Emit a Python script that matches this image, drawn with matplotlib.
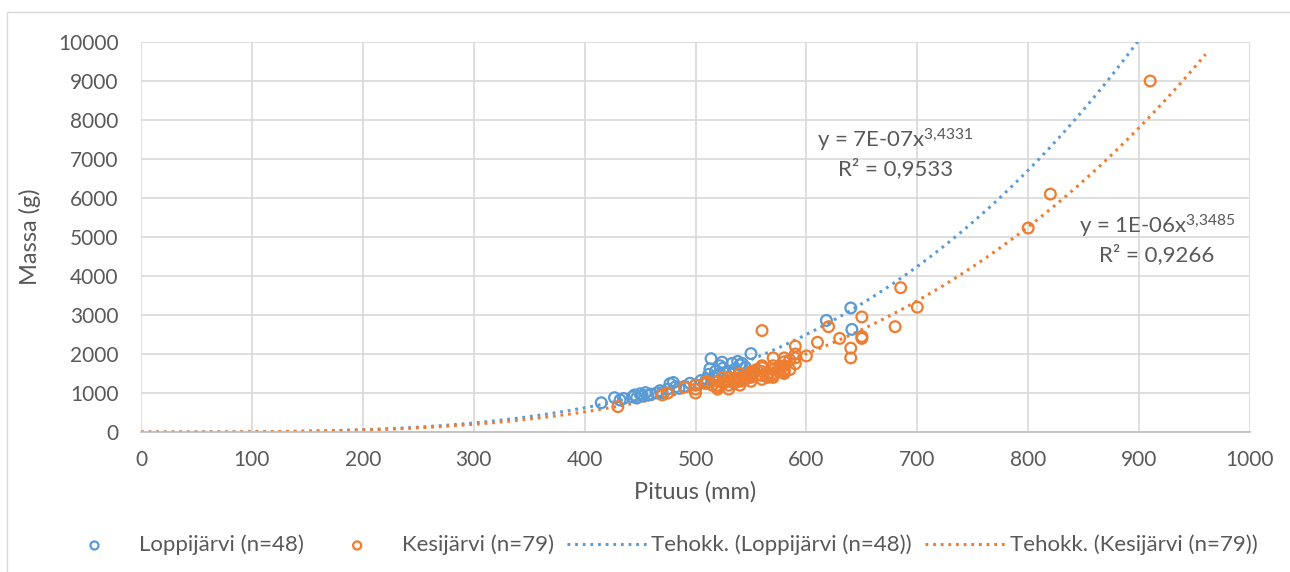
import matplotlib
matplotlib.use('Agg')
import matplotlib.pyplot as plt
import numpy as np
from matplotlib.patches import Rectangle

# Loppijärvi (n=48): pituus (mm), massa (g)
loppi_len = [415, 427, 432, 435, 443, 445, 447, 450, 452, 455, 457, 460, 465, 468, 470, 475,
             477, 480, 482, 485, 490, 500, 505, 508, 510, 512, 513, 514, 516, 518, 520, 522,
             524, 525, 527, 530, 533, 535, 538, 540, 542, 545, 550, 553, 618, 640, 641, 495]
loppi_mass = [750, 880, 820, 860, 900, 950, 870, 980, 920, 1010, 940, 970, 1000, 1060, 1010, 1100,
              1240, 1270, 1160, 1120, 1170, 1210, 1320, 1250, 1360, 1480, 1620, 1880, 1400, 1560, 1460, 1700,
              1790, 1640, 1510, 1560, 1760, 1600, 1810, 1720, 1760, 1660, 2010, 1560, 2860, 3180, 2630, 1250]

# Kesijärvi (n=79)
kesi_len = [430, 470, 475, 500, 500, 500, 510, 510, 520, 520, 520, 525, 530, 530, 530, 530,
            535, 540, 540, 540, 540, 545, 550, 550, 550, 550, 555, 560, 560, 560, 560, 560,
            565, 570, 570, 570, 570, 570, 575, 580, 580, 580, 580, 580, 585, 590, 590, 590,
            590, 600, 610, 620, 630, 640, 640, 650, 650, 650, 680, 685, 700, 800, 820, 910,
            490, 515, 525, 535, 545, 555, 565, 575, 585, 520, 540, 550, 560, 570, 580]
kesi_mass = [650, 950, 1000, 1000, 1100, 1200, 1250, 1300, 1100, 1200, 1300, 1250, 1100, 1200, 1300, 1400,
             1350, 1200, 1300, 1400, 1500, 1450, 1300, 1400, 1500, 1550, 1450, 1350, 1450, 1550, 1650, 2600,
             1500, 1400, 1500, 1600, 1700, 1900, 1650, 1500, 1600, 1700, 1800, 1900, 1850, 1750, 1900, 2000,
             2200, 1950, 2300, 2700, 2400, 1900, 2150, 2400, 2450, 2950, 2700, 3700, 3200, 5230, 6100, 9000,
             1150, 1200, 1400, 1250, 1350, 1600, 1400, 1550, 1600, 1150, 1350, 1450, 1700, 1450, 1550]

# trendiviivat (potenssi) y = a * x^b
loppi_a, loppi_b = 7.25e-7, 3.4331
kesi_a, kesi_b = 1.0e-6, 3.3485
loppi_xmax = 900
kesi_xmax = 960

blue = '#5B9BD5'
orange = '#ED7D31'
grey = '#595959'

plt.rcParams['font.family'] = ['Lato', 'DejaVu Sans']
plt.rcParams['mathtext.fontset'] = 'custom'
plt.rcParams['mathtext.rm'] = 'Lato'
plt.rcParams['mathtext.it'] = 'Lato'

fig = plt.figure(figsize=(12.9, 5.72), dpi=100)
ax = fig.add_axes([141 / 1290, 1 - 432 / 572, (1250 - 141) / 1290, (432 - 42) / 572])

# outer frame
fig.patches.append(Rectangle((7 / 1290, -0.01), 1.1, 1 - 12 / 572 + 0.01, transform=fig.transFigure,
                             fill=False, edgecolor='#d9d9d9', linewidth=1))

ax.scatter(loppi_len, loppi_mass, s=60, facecolors='none', edgecolors=blue, linewidths=1.6,
           label='Loppijärvi (n=48)', zorder=3)
ax.scatter(kesi_len, kesi_mass, s=60, facecolors='none', edgecolors=orange, linewidths=1.6,
           label='Kesijärvi (n=79)', zorder=3)

xb = np.linspace(0, loppi_xmax, 400)
xo = np.linspace(0, kesi_xmax, 400)
ax.plot(xb, loppi_a * xb ** loppi_b, color=blue, linewidth=2.2, linestyle=(0, (0.9, 1.6)),
        label='Tehokk. (Loppijärvi (n=48))', zorder=2)
ax.plot(xo, kesi_a * xo ** kesi_b, color=orange, linewidth=2.2, linestyle=(0, (0.9, 1.6)),
        label='Tehokk. (Kesijärvi (n=79))', zorder=2)

ax.set_xlim(0, 1000)
ax.set_ylim(0, 10000)
ax.set_xticks(np.arange(0, 1001, 100))
ax.set_yticks(np.arange(0, 10001, 1000))
ax.grid(True, color='#d9d9d9', linewidth=1.2)
ax.set_axisbelow(True)
for s in ['top', 'right', 'left']:
    ax.spines[s].set_visible(False)
ax.spines['bottom'].set_color('#bfbfbf')
ax.spines['bottom'].set_linewidth(1.2)
ax.tick_params(length=0, labelsize=15, colors=grey)
ax.tick_params(axis='x', pad=13)
ax.tick_params(axis='y', pad=16)

ax.set_xlabel('Pituus (mm)', fontsize=17, color=grey, labelpad=8)
ax.set_ylabel('Massa (g)', fontsize=17, color=grey, labelpad=12)

ax.text(680, 7480, r'y = 7E-07x$^{3{,}4331}$', fontsize=16, color=grey, ha='center', va='center')
ax.text(680, 6760, 'R² = 0,9533', fontsize=16, color=grey, ha='center', va='center')
ax.text(916, 5260, r'y = 1E-06x$^{3{,}3485}$', fontsize=16, color=grey, ha='center', va='center')
ax.text(916, 4540, 'R² = 0,9266', fontsize=16, color=grey, ha='center', va='center')

leg = fig.legend(loc='center', bbox_to_anchor=(656 / 1290, 1 - 545 / 572), ncol=4, frameon=False,
                 fontsize=16, handlelength=3.6, columnspacing=0.6, handletextpad=0.2,
                 markerscale=0.75, borderpad=0)
for t in leg.get_texts():
    t.set_color(grey)

fig.savefig('out.png', dpi=100)
